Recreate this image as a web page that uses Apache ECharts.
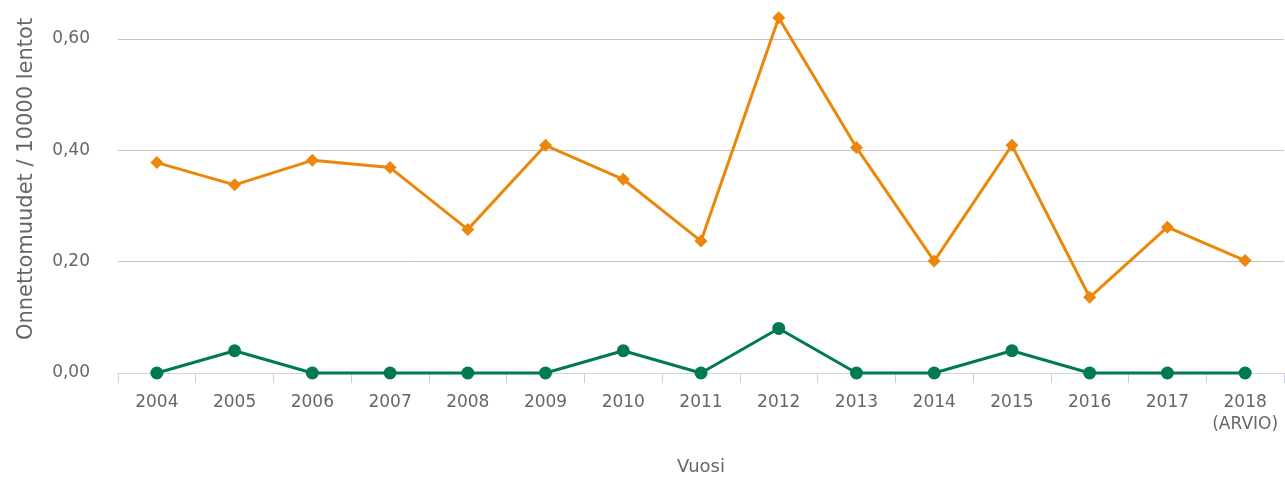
<!DOCTYPE html>
<html>
<head>
<meta charset="utf-8">
<script src="https://cdn.jsdelivr.net/npm/echarts@6/dist/echarts.min.js"></script>
<style>
  html, body { margin: 0; padding: 0; background: #fff; }
  #chart { width: 1285px; height: 481px; }
</style>
</head>
<body>
<div id="chart"></div>
<script>
// vuodet
var years = ['2004', '2005', '2006', '2007', '2008', '2009', '2010', '2011', '2012', '2013', '2014', '2015', '2016', '2017', '2018\n(ARVIO)'];
// oranssi sarja
var orangeValues = [0.378, 0.338, 0.382, 0.369, 0.258, 0.409, 0.348, 0.237, 0.638, 0.405, 0.201, 0.409, 0.136, 0.262, 0.202];
// vihreä sarja
var greenValues = [0, 0.04, 0, 0, 0, 0, 0.04, 0, 0.08, 0, 0, 0.04, 0, 0, 0];
var yTicks = [0, 0.2, 0.4, 0.6];

var font = '"DejaVu Sans", sans-serif';
var chart = echarts.init(document.getElementById('chart'));

var option = {
  animation: false,
  grid: { left: 118, right: 1, top: 39, bottom: 106 },
  xAxis: {
    type: 'category',
    data: years,
    boundaryGap: true,
    name: 'Vuosi',
    nameLocation: 'middle',
    nameGap: 85,
    nameTextStyle: { color: '#666', fontSize: 18, fontFamily: font },
    axisLine: { lineStyle: { color: '#ccd6eb', width: 1 } },
    axisTick: { show: true, interval: 0, length: 10, lineStyle: { color: '#c6d1e4' } },
    axisLabel: { interval: 0, color: '#666', fontSize: 17, fontFamily: font, margin: 19, lineHeight: 22 }
  },
  yAxis: {
    type: 'value',
    min: yTicks[0],
    max: yTicks[yTicks.length - 1],
    interval: 0.2,
    name: 'Onnettomuudet / 10000 lentot',
    nameLocation: 'middle',
    nameGap: 81,
    nameTextStyle: { color: '#666', fontSize: 21, fontFamily: font, padding: [0, 0, 0, 54] },
    axisLine: { show: false },
    axisTick: { show: false },
    splitLine: { lineStyle: { color: '#c4c4c4', width: 1 } },
    axisLabel: {
      color: '#666', fontSize: 17, fontFamily: font, margin: 28, padding: [3, 0, 0, 0],
      formatter: function (v) { return v.toFixed(2).replace('.', ','); }
    }
  },
  series: [
    {
      type: 'line',
      data: orangeValues,
      clip: false,
      color: '#eb870a',
      lineStyle: { width: 3 },
      symbol: 'diamond',
      symbolSize: 13,
      itemStyle: { color: '#eb870a' }
    },
    {
      type: 'line',
      data: greenValues,
      clip: false,
      color: '#007a4e',
      lineStyle: { width: 3 },
      symbol: 'circle',
      symbolSize: 13,
      itemStyle: { color: '#007a4e' }
    }
  ]
};

chart.setOption(option);
</script>
</body>
</html>
